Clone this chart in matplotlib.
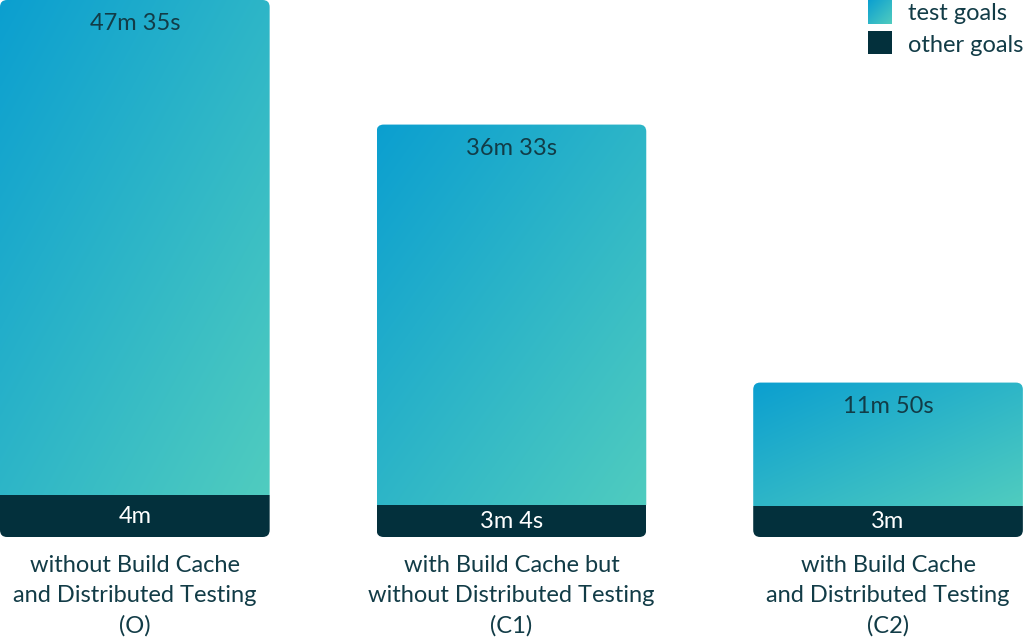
import numpy as np
import matplotlib
matplotlib.use("Agg")
import matplotlib.pyplot as plt
from matplotlib.patches import FancyBboxPatch
from matplotlib.colors import to_rgb
from matplotlib.transforms import blended_transform_factory

plt.rcParams['font.family'] = ['Lato', 'DejaVu Sans']

# ---- data ----
categories = ["without Build Cache\nand Distributed Testing\n(O)",
              "with Build Cache but\nwithout Distributed Testing\n(C1)",
              "with Build Cache\nand Distributed Testing\n(C2)"]
test_minutes = [47 + 35 / 60, 36 + 33 / 60, 11 + 50 / 60]
other_minutes = [4, 3 + 4 / 60, 3]
test_labels = ["47m 35s", "36m 33s", "11m 50s"]
other_labels = ["4m", "3m 4s", "3m"]
series_names = ["test goals", "other goals"]

# ---- style ----
grad_start = np.array(to_rgb("#0b9fd0"))
grad_end = np.array(to_rgb("#50ccbf"))
dark = "#03303c"
text_dark = "#123c47"

W, H = 1024, 637
fig = plt.figure(figsize=(W / 100, H / 100), dpi=100)
ax_h = 537
ax = fig.add_axes([0, 1 - ax_h / H, 1, ax_h / H])
ax.set_axis_off()

x = np.arange(len(categories))
width = 0.716
totals = np.array(test_minutes) + np.array(other_minutes)
xlim = (-width / 2, 2 + width / 2 + 0.003)
ylim = (0, totals.max())


def gradient_image(n=200, m=200):
    u = np.linspace(0, 1, m)[None, :]
    v = np.linspace(0, 1, n)[:, None]
    t = (u + v) / 2
    img = grad_start[None, None, :] * (1 - t[..., None]) + grad_end[None, None, :] * t[..., None]
    return img


other_bars = ax.bar(x, other_minutes, width, color=dark, linewidth=0)
test_bars = ax.bar(x, test_minutes, width, bottom=other_minutes, color='none', linewidth=0)

px_x = W / (xlim[1] - xlim[0])
px_y = ax_h / (ylim[1] - ylim[0])
r_px = 7
rx = r_px / px_x
asp = px_x / px_y

img = gradient_image()
for ob, tb in zip(other_bars, test_bars):
    x0 = ob.get_x()
    w = ob.get_width()
    y0 = ob.get_y()
    total_h = ob.get_height() + tb.get_height()
    clip = FancyBboxPatch((x0, y0), w, total_h,
                          boxstyle=f"round,pad=0,rounding_size={rx}",
                          mutation_aspect=asp, transform=ax.transData,
                          facecolor='none', edgecolor='none')
    ax.add_patch(clip)
    ob.set_clip_path(clip)
    im = ax.imshow(img, extent=[x0, x0 + w, tb.get_y(), tb.get_y() + tb.get_height()],
                   origin='upper', aspect='auto', interpolation='bilinear', zorder=1)
    im.set_clip_path(clip)

ax.set_xlim(*xlim)
ax.set_ylim(*ylim)

fs = 17
for xi, tot, lab in zip(x, totals, test_labels):
    ax.annotate(lab, (xi, tot), xytext=(0, -24 * 0.72), textcoords='offset points',
                ha='center', va='center', fontsize=fs, color=text_dark)
for xi, o, lab in zip(x, other_minutes, other_labels):
    ax.text(xi, o / 2, lab, ha='center', va='center', fontsize=fs, color='white')

trans = blended_transform_factory(ax.transData, ax.transAxes)
for xi, cat in zip(x, categories):
    for k, line in enumerate(cat.split("\n")):
        ax.text(xi, -(29 + 30 * k) / ax_h, line, transform=trans, ha='center',
                va='center', fontsize=fs, color=text_dark, clip_on=False)

# legend
sw = fig.add_axes([868 / W, 1 - 24 / H, 24 / W, 24 / H])
sw.imshow(gradient_image(50, 50), origin='upper', aspect='auto', interpolation='bilinear')
sw.set_axis_off()
sw2 = fig.add_axes([868 / W, 1 - 54 / H, 24 / W, 23 / H])
sw2.set_facecolor(dark)
sw2.set_xticks([]); sw2.set_yticks([])
for s in sw2.spines.values():
    s.set_visible(False)
fig.text(908 / W, 1 - 14 / H, series_names[0], ha='left', va='center', fontsize=fs, color=text_dark)
fig.text(908 / W, 1 - 45 / H, series_names[1], ha='left', va='center', fontsize=fs, color=text_dark)

fig.savefig("out.png", dpi=100)
